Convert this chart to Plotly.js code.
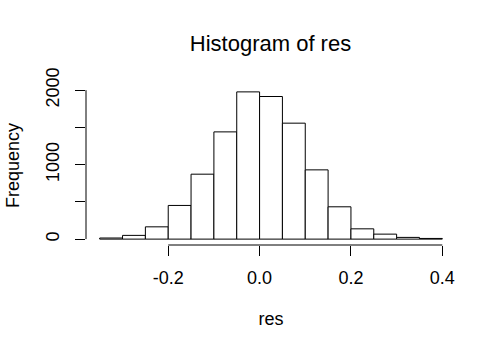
<!DOCTYPE html>
<html>
<head>
<meta charset="utf-8">
<script src="https://cdn.plot.ly/plotly-3.0.1.min.js"></script>
<style>html,body{margin:0;padding:0;background:#fff;}#chart{width:500px;height:352px;}</style>
</head>
<body>
<div id="chart"></div>
<script>
const binStarts = [-0.35, -0.30, -0.25, -0.20, -0.15, -0.10, -0.05, 0.00, 0.05, 0.10, 0.15, 0.20, 0.25, 0.30, 0.35];
const counts = [15, 50, 165, 452, 872, 1440, 1977, 1915, 1557, 930, 434, 138, 67, 23, 9];
const binWidth = 0.05;
const xTicks = [-0.2, 0.0, 0.2, 0.4];
const xTickText = ["-0.2", "0.0", "0.2", "0.4"];
const yTicks = [0, 500, 1000, 1500, 2000];
const yTickText = ["0", "", "1000", "", "2000"];

const centers = binStarts.map(s => s + binWidth / 2);
const font = "Liberation Sans, Arial, sans-serif";

const trace = {
  type: "bar",
  x: centers,
  y: counts,
  width: centers.map(() => binWidth),
  marker: {color: "#ffffff", line: {color: "#000000", width: 1}},
  hoverinfo: "skip"
};

const layout = {
  width: 500, height: 352,
  margin: {l: 86, r: 44, t: 86, b: 107},
  paper_bgcolor: "#ffffff", plot_bgcolor: "#ffffff",
  showlegend: false,
  font: {family: font, color: "#000", size: 18},
  title: {text: "Histogram of res", font: {family: font, size: 22, color: "#000"}, x: 0.541, xanchor: "center", y: 1 - 43/352, yanchor: "middle", yref: "container"},
  xaxis: {
    range: [-0.38, 0.43], showgrid: false, zeroline: false, showline: false,
    tickmode: "array", tickvals: xTicks, ticktext: xTickText,
    ticks: "outside", ticklen: 10, tickcolor: "#000", tickwidth: 1,
    tickfont: {family: font, size: 18, color: "#000"},
    ticklabelstandoff: 6,
    title: {text: "res", font: {family: font, size: 18, color: "#000"}, standoff: 25}
  },
  yaxis: {
    range: [-79, 2056], showgrid: false, zeroline: false, showline: false,
    tickmode: "array", tickvals: yTicks, ticktext: yTickText,
    ticks: "outside", ticklen: 10, tickcolor: "#000", tickwidth: 1, tickangle: -90,
    tickfont: {family: font, size: 18, color: "#000"},
    ticklabelstandoff: 9,
    title: {text: "Frequency", font: {family: font, size: 18, color: "#000"}, standoff: 18}
  },
  shapes: [
    {type: "line", xref: "x", yref: "paper", x0: xTicks[0], x1: xTicks[xTicks.length-1], y0: 0, y1: 0, line: {color: "#000", width: 1}},
    {type: "line", xref: "paper", yref: "y", x0: 0, x1: 0, y0: yTicks[0], y1: yTicks[yTicks.length-1], line: {color: "#000", width: 1}}
  ]
};

Plotly.newPlot("chart", [trace], layout, {staticPlot: true, displayModeBar: false});
</script>
</body>
</html>
